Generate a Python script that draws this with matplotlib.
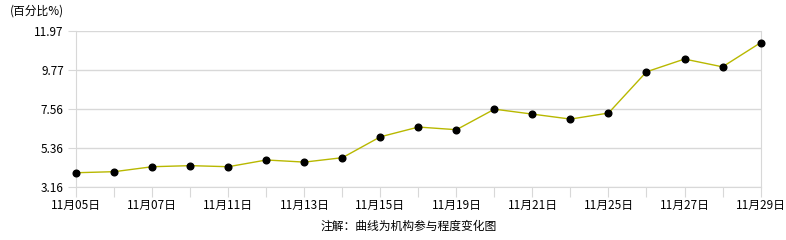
import matplotlib
matplotlib.use('Agg')
import matplotlib.pyplot as plt

plt.rcParams['font.family'] = ['Noto Sans CJK SC', 'DejaVu Sans']

days = ['11月05日', '11月06日', '11月07日', '11月08日', '11月11日', '11月12日',
        '11月13日', '11月14日', '11月15日', '11月18日', '11月19日', '11月20日',
        '11月21日', '11月22日', '11月25日', '11月26日', '11月27日', '11月28日',
        '11月29日']
values = [3.95, 4.01, 4.29, 4.35, 4.29, 4.67, 4.55, 4.80, 5.98, 6.53, 6.38,
          7.54, 7.26, 6.98, 7.32, 9.65, 10.37, 9.93, 11.29]
yticks = [3.16, 5.36, 7.56, 9.77, 11.97]

grey = '#d8d8d8'

fig = plt.figure(figsize=(7.86, 2.4), dpi=100)
ax = fig.add_axes([0.0971, 0.222, 0.8705, 0.650])

x = list(range(len(days)))
ax.plot(x, values, color='#b8b800', lw=1.0, zorder=2)
ax.plot(x, values, 'o', color='black', ms=4.8, zorder=3, clip_on=False)

ax.set_xlim(0, len(days) - 1)
ax.set_ylim(yticks[0], yticks[-1])
ax.set_yticks(yticks)
ax.set_yticklabels(['%.2f' % v for v in yticks], fontsize=8.5)
ax.set_xticks(x)
ax.set_xticklabels([d if i % 2 == 0 else '' for i, d in enumerate(days)], fontsize=8.5)

ax.grid(axis='y', color=grey, lw=1.0)
ax.tick_params(axis='x', length=7, color=grey, pad=1.5)
ax.tick_params(axis='y', length=6, color=grey, pad=3)
for s in ['left', 'right', 'bottom']:
    ax.spines[s].set_color(grey)
ax.spines['top'].set_visible(False)

fig.text(0.012, 0.955, '(百分比%)', fontsize=8.5, ha='left', va='center')
fig.text(0.52, 0.058, '注解：曲线为机构参与程度变化图', fontsize=8.5, ha='center', va='center')

plt.savefig('out.png', dpi=100)
